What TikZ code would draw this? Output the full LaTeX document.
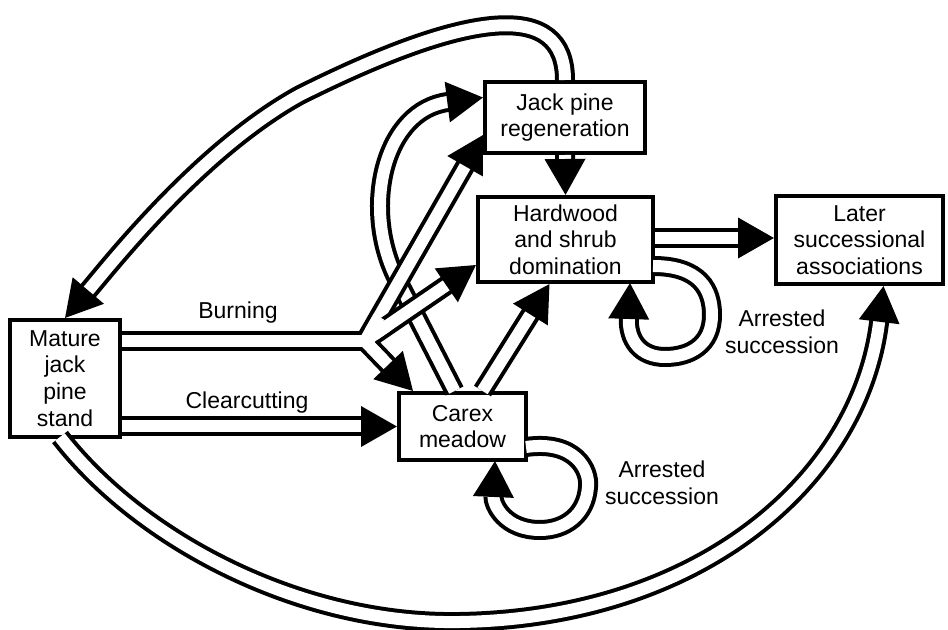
\documentclass[tikz,border=0pt]{standalone}
\usepackage{fontspec}
\setmainfont{Liberation Sans}
\usetikzlibrary{arrows.meta, calc}

\tikzset{
  stage/.style={draw, line width=2pt, align=center, inner sep=0pt,
    font=\fontsize{11.5}{13.3}\selectfont},
  flow/.style={double, double distance=6pt, line width=2pt,
    -{Triangle[length=18pt,width=20pt]}},
  core/.style={white, line width=6pt},
  tag/.style={align=center, font=\fontsize{11.5}{13.3}\selectfont},
}

\begin{document}
\begin{tikzpicture}[x=0.5pt, y=-0.5pt]
  \useasboundingbox (0,0) rectangle (948,630);

  % stages
  \node[stage, minimum width=55pt, minimum height=58.5pt] (mature) at (65,378.5) {Mature\\jack\\pine\\stand};
  \node[stage, minimum width=80pt, minimum height=35.5pt] (regen) at (565,117.5) {Jack pine\\regeneration};
  \node[stage, minimum width=87.5pt, minimum height=42.5pt] (hardwood) at (565.5,239.5) {Hardwood\\and shrub\\domination};
  \node[stage, minimum width=83.5pt, minimum height=44pt] (later) at (859.5,240) {Later\\successional\\associations};
  \node[stage, minimum width=63.5pt, minimum height=33.5pt] (carex) at (462.5,426.5) {Carex\\meadow};

  % branching point of the burning path
  \coordinate (fork) at (365,341);
  \coordinate (toregen) at ([yshift=10pt]regen.south west);
  \coordinate (tohard) at ([yshift=9.5pt]hardwood.south west);
  \coordinate (tocarex) at ([xshift=8pt]carex.north west);

  % carex back to regeneration
  \draw[flow] ([xshift=-4pt]carex.north) -- (395,275) .. controls (362,205) and (385,110) .. ([yshift=10pt]regen.west);

  % regeneration back to mature stand
  \draw[flow] (regen.north) .. controls (565,0) and (470,10) .. (300,95) .. controls (200,150) and (110,265) .. (mature.north);

  % burning
  \draw[double, double distance=6pt, line width=2pt] (mature.east |- fork) -- (fork);
  \foreach \t in {toregen,tohard,tocarex}
    \draw[flow] (fork) -- (\t);
  \draw[core] ($(fork)+(-12,0)$) -- (fork);
  \foreach \t in {toregen,tohard,tocarex}
    \draw[core] (fork) -- ($(fork)!14pt!(\t)$);
  \node[tag] (burn) at (238,313) {Burning};

  % clearcutting
  \draw[flow] (mature.east |- carex.west) -- (carex.west);
  \node[tag] (clear) at (247,403) {Clearcutting};

  % towards hardwood and later stages
  \draw[flow] ([xshift=10pt]carex.north) -- ([xshift=-8pt]hardwood.south);
  \draw[flow] (regen.south) -- (hardwood.north);
  \draw[flow] (hardwood.east |- 0,238) -- (later.west |- 0,238);
  \draw[flow] (60,437) .. controls (140,540) and (300,625) .. (460,622) .. controls (700,618) and (860,480) .. ([xshift=12pt]later.south);

  % arrested succession loops
  \draw[flow] (653,266) .. controls (700,266) and (712,290) .. (712,315) .. controls (712,345) and (690,357) .. (665,357) .. controls (640,357) and (628,340) .. (630,283);
  \node[tag] (arrest1) at (782,332) {Arrested\\succession};
  \draw[flow] (526,447) .. controls (575,440) and (590,470) .. (588,487) .. controls (586,515) and (565,530) .. (540,530) .. controls (505,530) and (493,505) .. (495,461);
  \node[tag] (arrest2) at (662,483) {Arrested\\succession};
\end{tikzpicture}
\end{document}
